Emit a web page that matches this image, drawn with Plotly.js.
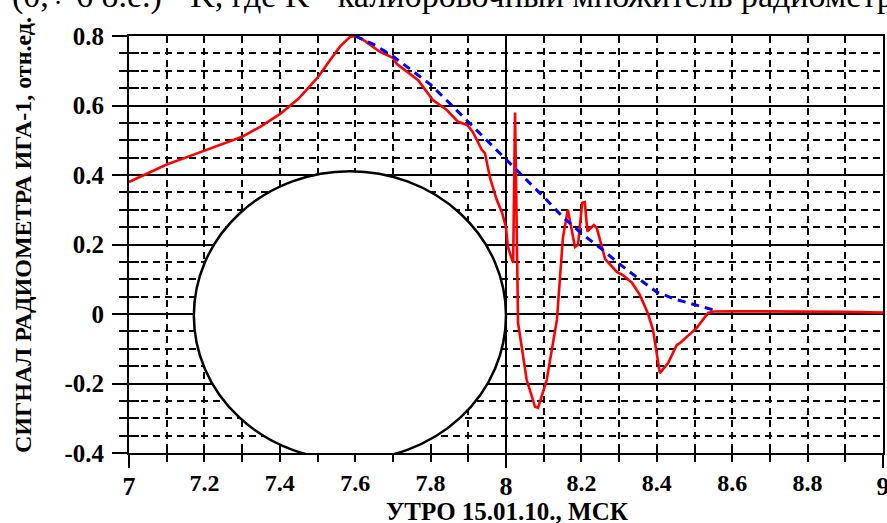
<!DOCTYPE html>
<html>
<head>
<meta charset="utf-8">
<script src="https://cdn.plot.ly/plotly-3.0.1.min.js"></script>
<style>
html,body{margin:0;padding:0;background:#fff;}
#chart{width:887px;height:523px;}
</style>
</head>
<body>
<div id="chart"></div>
<script>
// ---- data ----
const measuredX = [7.0, 7.05, 7.1, 7.15, 7.2, 7.25, 7.3, 7.35, 7.4, 7.45, 7.5, 7.533, 7.56, 7.586, 7.6, 7.62, 7.666, 7.70, 7.71, 7.767, 7.79, 7.806, 7.843, 7.873, 7.897, 7.912, 7.936, 7.944, 7.958, 7.975, 7.99, 8.0, 8.005, 8.019, 8.024, 8.032, 8.055, 8.077, 8.085, 8.108, 8.135, 8.151, 8.164, 8.183, 8.191, 8.202, 8.209, 8.216, 8.233, 8.241, 8.263, 8.294, 8.31, 8.334, 8.355, 8.377, 8.39, 8.408, 8.43, 8.453, 8.461, 8.47, 8.506, 8.536, 8.55, 8.6, 8.7, 8.8, 8.9, 9.0];
const measuredY = [0.38, 0.405, 0.43, 0.45, 0.47, 0.49, 0.51, 0.54, 0.575, 0.62, 0.68, 0.73, 0.77, 0.797, 0.80, 0.79, 0.754, 0.737, 0.72, 0.673, 0.64, 0.616, 0.587, 0.553, 0.544, 0.524, 0.472, 0.463, 0.39, 0.33, 0.29, 0.25, 0.193, 0.147, 0.58, -0.026, -0.19, -0.267, -0.27, -0.19, -0.017, 0.22, 0.30, 0.193, 0.199, 0.32, 0.322, 0.238, 0.256, 0.247, 0.158, 0.121, 0.112, 0.09, 0.055, 0.0, -0.046, -0.17, -0.141, -0.089, -0.084, -0.075, -0.04, 0.003, 0.007, 0.008, 0.008, 0.007, 0.006, 0.004];

const modelX = [7.6, 7.65, 7.7, 7.75, 7.8, 7.85, 7.9, 7.95, 8.0, 8.05, 8.1, 8.15, 8.2, 8.25, 8.3, 8.35, 8.4, 8.45, 8.5, 8.55];
const modelY = [0.80, 0.775, 0.742, 0.70, 0.66, 0.607, 0.553, 0.50, 0.448, 0.393, 0.337, 0.28, 0.232, 0.19, 0.145, 0.103, 0.063, 0.042, 0.026, 0.012];

// tick labels
const xMajorVals = [7, 8, 9];
const xMajorText = ["7", "8", "9"];
const xMinorVals = [7.0, 7.1, 7.2, 7.3, 7.4, 7.5, 7.6, 7.7, 7.8, 7.9, 8.0, 8.1, 8.2, 8.3, 8.4, 8.5, 8.6, 8.7, 8.8, 8.9, 9.0];
const xMinorText = ["", "", "7.2", "", "7.4", "", "7.6", "", "7.8", "", "", "", "8.2", "", "8.4", "", "8.6", "", "8.8", "", ""];
const yVals = [-0.4, -0.2, 0, 0.2, 0.4, 0.6, 0.8];
const yText = ["-0.4", "-0.2", "0", "0.2", "0.4", "0.6", "0.8"];

const xTitle = "УТРО 15.01.10., МСК";
const yTitle = "СИГНАЛ РАДИОМЕТРА ИГА-1, отн.ед.";
const topText = "(0,÷ 6 о.е.) · K, где K - калибровочный множитель радиометра";

// ---- layout constants ----
const XR = [7, 9], YR = [-0.4, 0.8];
const ovalBox = {x0: 7.172, x1: 8.0, y0: -0.42, y1: 0.411};
const serif = "Liberation Serif, Times New Roman, serif";
const L = 129, T = 36, W = 754, H = 417;
const px2paperX = p => (p - L) / W;
const px2paperY = p => (T + H - p) / H;

const traces = [
  {x: measuredX, y: measuredY, type: 'scatter', mode: 'lines', xaxis: 'x', yaxis: 'y',
   line: {color: '#ff0000', width: 2.6}, hoverinfo: 'x+y', showlegend: false},
  {x: modelX, y: modelY, type: 'scatter', mode: 'lines', xaxis: 'x2', yaxis: 'y2',
   line: {color: '#0000ff', width: 3, dash: '8px,6px'}, hoverinfo: 'x+y', showlegend: false}
];

const gridDash = '7px,5px';
const layout = {
  width: 887, height: 523,
  margin: {l: L, r: 887 - L - W, t: T, b: 523 - T - H, pad: 0},
  paper_bgcolor: '#fff', plot_bgcolor: '#fff',
  showlegend: false,
  font: {family: serif, color: '#000'},
  xaxis: {
    range: XR, autorange: false, fixedrange: true,
    showline: true, linecolor: '#000', linewidth: 2, mirror: true,
    zeroline: false,
    tickmode: 'array', tickvals: xMajorVals, ticktext: xMajorText,
    ticks: 'outside', ticklen: 13, tickwidth: 2, tickcolor: '#000',
    showgrid: true, gridcolor: '#000', gridwidth: 2,
    tickfont: {family: serif, size: 26, color: '#000', weight: 'bold'},
    ticklabelstandoff: -4, ticklabeloverflow: 'allow',
    minor: {tickmode: 'linear', tick0: 7, dtick: 0.1, ticks: 'outside', ticklen: 7, tickwidth: 2, tickcolor: '#000',
            showgrid: true, gridcolor: '#000', gridwidth: 2, griddash: gridDash}
  },
  yaxis: {
    range: YR, autorange: false, fixedrange: true,
    showline: true, linecolor: '#000', linewidth: 2, mirror: true,
    zeroline: false,
    tickmode: 'array', tickvals: yVals, ticktext: yText,
    ticks: 'outside', ticklen: 15, tickwidth: 2, tickcolor: '#000',
    showgrid: true, gridcolor: '#000', gridwidth: 2,
    tickfont: {family: serif, size: 25, color: '#000', weight: 'bold'},
    ticklabelstandoff: 3,
    minor: {tickmode: 'linear', tick0: 0, dtick: 0.05, ticks: 'outside', ticklen: 8, tickwidth: 2, tickcolor: '#000',
            showgrid: true, gridcolor: '#000', gridwidth: 2, griddash: gridDash}
  },
  xaxis2: {
    overlaying: 'x', anchor: 'y2', side: 'bottom',
    range: XR, autorange: false, fixedrange: true,
    showline: false, zeroline: false, showgrid: false,
    tickmode: 'array', tickvals: xMinorVals, ticktext: xMinorText,
    ticks: 'inside', ticklen: 7, tickwidth: 2, tickcolor: '#000',
    tickfont: {family: serif, size: 24, color: '#000', weight: 'bold'},
    ticklabelstandoff: 13
  },
  yaxis2: {
    overlaying: 'y', anchor: 'x2', side: 'left',
    range: YR, autorange: false, fixedrange: true,
    showline: false, zeroline: false, showgrid: false,
    tickmode: 'linear', tick0: 0, dtick: 0.05,
    ticks: 'inside', ticklen: 10, tickwidth: 2, tickcolor: '#000',
    showticklabels: false
  },
  shapes: [
    {type: 'circle', xref: 'x', yref: 'y', layer: 'above',
     x0: ovalBox.x0, x1: ovalBox.x1, y0: ovalBox.y0, y1: ovalBox.y1,
     fillcolor: '#fff', line: {color: '#000', width: 2.5}}
  ],
  annotations: [
    {text: '<b>' + xTitle + '</b>', xref: 'paper', yref: 'paper', x: px2paperX(507), y: px2paperY(511),
     xanchor: 'center', yanchor: 'middle', showarrow: false,
     font: {family: serif, size: 25, color: '#000'}},
    {text: '<b>' + yTitle + '</b>', xref: 'paper', yref: 'paper', x: px2paperX(23), y: px2paperY(235),
     xanchor: 'center', yanchor: 'middle', showarrow: false, textangle: -90,
     font: {family: serif, size: 24, color: '#000'}},
    {text: topText, xref: 'paper', yref: 'paper', x: px2paperX(10), y: px2paperY(17),
     xanchor: 'left', yanchor: 'bottom', showarrow: false,
     font: {family: serif, size: 34, color: '#000'}}
  ]
};

Plotly.newPlot('chart', traces, layout, {staticPlot: true, displayModeBar: false});
</script>
</body>
</html>
